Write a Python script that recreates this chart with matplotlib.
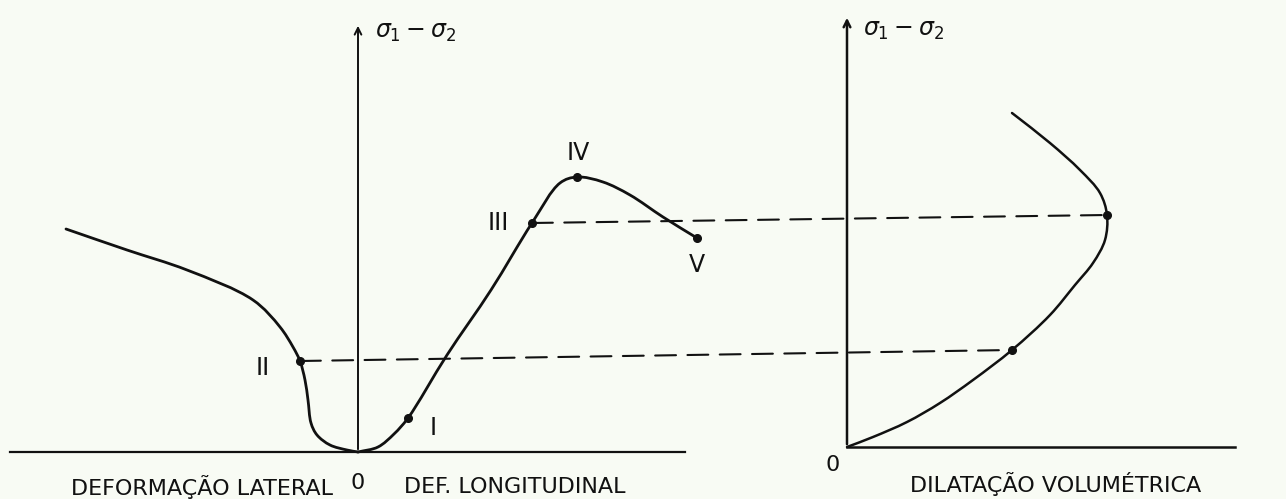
import matplotlib
matplotlib.use('Agg')
import matplotlib.pyplot as plt
import numpy as np
from matplotlib.patches import ConnectionPatch, PathPatch
from matplotlib.path import Path

# curva tensão-deformação: ramo lateral (x < 0) e ramo longitudinal (x > 0)
lat_x = [-2.92, -2.31, -1.71, -1.05, -0.78, -0.65, -0.58, -0.53, -0.50, -0.47, -0.41, -0.28, -0.11, 0.0]
lat_y = [2.23, 2.02, 1.82, 1.52, 1.25, 1.05, 0.91, 0.72, 0.52, 0.29, 0.17, 0.07, 0.02, 0.0]
lon_x = [0.0, 0.20, 0.36, 0.50, 0.89, 1.33, 1.74, 2.02, 2.19, 2.45, 2.72, 3.05, 3.39]
lon_y = [0.0, 0.05, 0.18, 0.34, 0.97, 1.62, 2.29, 2.69, 2.75, 2.70, 2.57, 2.35, 2.14]

# curva tensão-dilatação volumétrica
vol_x = [0.0, 0.26, 0.60, 0.93, 1.26, 1.65, 2.03, 2.28, 2.46, 2.58, 2.60, 2.53, 2.33, 2.03, 1.65]
vol_y = [0.0, 0.10, 0.25, 0.44, 0.67, 0.97, 1.32, 1.62, 1.84, 2.07, 2.32, 2.54, 2.77, 3.04, 3.34]

# pontos característicos I..V
pts_nome = ['I', 'II', 'III', 'IV', 'V']
pts_x = [0.50, -0.58, 1.74, 2.19, 3.39]
pts_y = [0.34, 0.91, 2.29, 2.75, 2.14]

# pontos correspondentes na curva volumétrica (II e III)
vol_pts_x = [1.65, 2.60]
vol_pts_y = [0.97, 2.32]

tinta = '#111111'
fundo = '#f8fbf4'


def curva_suave(ax, xs, ys, **kw):
    # traço contínuo pelos pontos: Catmull-Rom centrípeta escrita como Bézier cúbica
    p = np.column_stack([xs, ys]).astype(float)
    n = len(p)
    verts = [p[0]]
    codes = [Path.MOVETO]
    for i in range(n - 1):
        p1, p2 = p[i], p[i + 1]
        d2 = np.linalg.norm(p2 - p1) ** 0.5
        if i > 0:
            p0 = p[i - 1]
            d1 = np.linalg.norm(p1 - p0) ** 0.5
            b1 = (d1**2 * p2 - d2**2 * p0 + (2 * d1**2 + 3 * d1 * d2 + d2**2) * p1) / (3 * d1 * (d1 + d2))
        else:
            b1 = p1 + (p2 - p1) / 3
        if i + 2 < n:
            p3 = p[i + 2]
            d3 = np.linalg.norm(p3 - p2) ** 0.5
            b2 = (d3**2 * p1 - d2**2 * p3 + (2 * d3**2 + 3 * d3 * d2 + d2**2) * p2) / (3 * d3 * (d3 + d2))
        else:
            b2 = p2 - (p2 - p1) / 3
        verts += [b1, b2, p2]
        codes += [Path.CURVE4] * 3
    ax.add_patch(PathPatch(Path(verts, codes), fill=False, capstyle='round',
                           joinstyle='round', **kw))


fig = plt.figure(figsize=(12.86, 4.99), dpi=100, facecolor=fundo)
ax1 = fig.add_axes([0, 0, 1, 1])
ax2 = fig.add_axes([0, 0, 1, 1])
for ax in (ax1, ax2):
    ax.set_axis_off()
    ax.patch.set_alpha(0)
ax1.set_xlim(-3.58, 9.28)
ax1.set_ylim(-0.47, 4.52)
ax2.set_xlim(-8.47, 4.39)
ax2.set_ylim(-0.52, 4.47)

# eixos desenhados à mão
ax1.plot([-3.48, 3.27], [0, 0], color=tinta, lw=1.6)
ax1.annotate('', xy=(0, 4.29), xytext=(0, 0),
             arrowprops=dict(arrowstyle='->', color=tinta, lw=1.4, mutation_scale=12))
ax2.plot([0, 3.88], [0, 0], color=tinta, lw=1.8)
ax2.annotate('', xy=(0, 4.32), xytext=(0, 0),
             arrowprops=dict(arrowstyle='->', color=tinta, lw=1.8, mutation_scale=12))

# curvas
curva_suave(ax1, lat_x, lat_y, edgecolor=tinta, lw=2.0)
curva_suave(ax1, lon_x, lon_y, edgecolor=tinta, lw=2.0)
curva_suave(ax2, vol_x, vol_y, edgecolor=tinta, lw=1.8)

ax1.plot(pts_x, pts_y, 'o', color=tinta, ms=5.5)
ax2.plot(vol_pts_x, vol_pts_y, 'o', color=tinta, ms=5.5)

# ligações tracejadas II e III entre os dois gráficos
for (xa, ya), (xb, yb) in zip([(pts_x[1], pts_y[1]), (pts_x[2], pts_y[2])],
                              zip(vol_pts_x, vol_pts_y)):
    con = ConnectionPatch(xyA=(xa, ya), coordsA=ax1.transData,
                          xyB=(xb, yb), coordsB=ax2.transData,
                          color=tinta, lw=1.5, linestyle=(0, (10, 5.5)))
    fig.add_artist(con)

# rótulos dos pontos
fonte_num = ['Liberation Sans Narrow', 'DejaVu Sans']
rot_pos = {'I': (0.75, 0.24), 'II': (-0.95, 0.84), 'III': (1.40, 2.29),
           'IV': (2.20, 2.99), 'V': (3.39, 1.87)}
for nome in pts_nome:
    x, y = rot_pos[nome]
    ax1.text(x, y, nome, family=fonte_num, fontsize=17, ha='center', va='center',
             color=tinta)

# textos dos eixos
sig = r'$\sigma_1 - \sigma_2$'
ax1.text(0.17, 4.20, sig, fontsize=17, ha='left', va='center', color=tinta)
ax2.text(0.16, 4.17, sig, fontsize=17, ha='left', va='center', color=tinta)

ax1.text(0, -0.31, '0', family=fonte_num, fontsize=16, ha='center', va='center', color=tinta)
ax2.text(-0.14, -0.18, '0', family=fonte_num, fontsize=16, ha='center', va='center', color=tinta)
ax1.text(-0.25, -0.35, 'DEFORMAÇÃO LATERAL', fontsize=16, ha='right', va='center', color=tinta)
ax1.text(0.46, -0.35, 'DEF. LONGITUDINAL', fontsize=16, ha='left', va='center', color=tinta)
ax2.text(0.63, -0.37, 'DILATAÇÃO VOLUMÉTRICA', fontsize=16, ha='left', va='center', color=tinta)

fig.savefig('out.png', dpi=100, facecolor=fundo)
